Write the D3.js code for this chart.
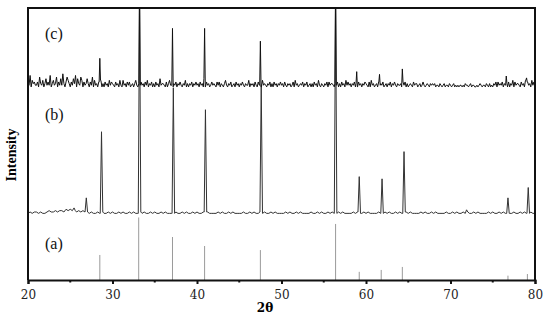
<!DOCTYPE html>
<html lang="en">
<head>
<meta charset="utf-8">
<style>
  body { margin: 0; background: white; }
  svg { display: block; background: white; }
  .tick text { font-family: 'DejaVu Serif'; font-size: 12px; fill: #222; }
  .trace { fill: none; stroke-linejoin: round; }
</style>
</head>
<body>
<svg width="550" height="318"></svg>
<script src="https://d3js.org/d3.v7.min.js"></script>
<script>
// tick labels on the 2-theta axis
const majorTicks = [20, 30, 40, 50, 60, 70, 80];
const minorTicks = [25, 35, 45, 55, 65, 75];

// (a) reference pattern: stick positions and heights
const refPos    = [28.5, 33.1, 37.1, 40.9, 47.5, 56.4, 59.2, 61.8, 64.3, 76.8, 79.1];
const refHeight = [9.2, 23, 15.8, 12.5, 11, 20.6, 3, 3.7, 4.8, 1.6, 2.2];

// (b) pattern: peak positions and heights above its baseline
const bPos    = [25.6, 26.9, 28.7, 33.2, 37.2, 41.0, 47.6, 56.4, 59.2, 61.9, 64.5, 71.9, 76.8, 79.2];
const bHeight = [1.5, 6.2, 30.5, 80, 46.7, 38.6, 47.8, 80, 14, 13.2, 23.2, 1.8, 6.2, 10];

// (c) pattern: peak positions and heights above its baseline
const cPos    = [28.5, 33.2, 37.1, 40.9, 47.5, 56.4, 58.9, 61.6, 64.3, 76.6, 79.0];
const cHeight = [10.5, 40, 21.5, 21.5, 16.8, 40, 5.6, 4.6, 6.6, 4, 3.3];

// baseline noise from 20 to 80, one digit per step (c: 0.125 deg, b: 0.25 deg)
const cNoise = "21704231 13062140 25131702 41260315 18203642 03152705 21640312 52031604 12031402 03120413 21031204 10412031 30120241 02131203 14021302 03120512 21030241 10213021 31021402 02130213 12031205 03120131 21031302 10241021 30120312 02131021 14021203 10312041 21021302 03120213 12031021 20130412 01213021 30120203 12041021 02130312 21021302 03120413 12021302 03120213 21030412 01203121 30120213 02131021 12031302 01210312 20120131 01210212 12011021 01201102 10120101 01101021 10120110 01012101 10210201 02130312 13021203 02140312 21031204 03120413 1";
const bNoise = "1212 2121 1232 2323 3243 4352 3232 2121 1212 1121 2112 1211 2121 1212 1121 2112 1211 1121 1212 1121 2112 1211 1121 2112 1211 1121 1212 1121 2112 1211 1121 2112 1211 1121 1212 1121 2112 1211 1121 2112 1211 1121 1212 1121 2112 1211 1121 2112 1211 1121 1212 1121 2112 1211 1121 2112 1211 1121 1212 1121 1";
const cStep = 0.125, bStep = 0.25;
const cNoiseUnit = 0.6, bNoiseUnit = 0.5;

const bOffset = 24, cOffset = 71;

const svg = d3.select("svg");
const box = { left: 28, right: 535, top: 8, bottom: 280 };

const x = d3.scaleLinear().domain([20, 80]).range([box.left, box.right]);
const y = d3.scaleLinear().domain([0, 100]).range([box.bottom, box.top]);

svg.append("clipPath").attr("id", "plot")
  .append("rect").attr("x", box.left).attr("y", box.top)
  .attr("width", box.right - box.left).attr("height", box.bottom - box.top);

function buildTrace(noiseStr, step, unit, pos, height, offset, hw) {
  const noise = noiseStr.replace(/ /g, "").split("").map(d => +d * unit);
  const grid = noise.map((v, i) => ({ t: 20 + i * step, v: v }));
  const nearest = t => noise[Math.max(0, Math.min(noise.length - 1, Math.round((t - 20) / step)))];
  let pts = grid.filter(g => !pos.some(p => Math.abs(g.t - p) < hw));
  pos.forEach((p, i) => {
    pts.push({ t: p - hw, v: nearest(p - hw) });
    pts.push({ t: p, v: height[i] });
    pts.push({ t: p + hw, v: nearest(p + hw) });
  });
  pts.sort((a, b) => a.t - b.t);
  return pts.map(d => ({ t: d.t, v: d.v + offset }));
}

const line = d3.line().x(d => x(d.t)).y(d => y(d.v));

const plot = svg.append("g").attr("clip-path", "url(#plot)");

// (a) reference sticks
plot.selectAll("line.ref")
  .data(refPos)
  .join("line")
  .attr("class", "ref")
  .attr("x1", d => x(d)).attr("x2", d => x(d))
  .attr("y1", y(0)).attr("y2", (d, i) => y(refHeight[i]))
  .attr("stroke", "#9a9a9a").attr("stroke-width", 1);

// (b) trace
plot.append("path")
  .datum(buildTrace(bNoise, bStep, bNoiseUnit, bPos, bHeight, bOffset, 0.15))
  .attr("class", "trace")
  .attr("stroke", "#333").attr("stroke-width", 1)
  .attr("d", line);

// (c) trace
plot.append("path")
  .datum(buildTrace(cNoise, cStep, cNoiseUnit, cPos, cHeight, cOffset, 0.08))
  .attr("class", "trace")
  .attr("stroke", "#111").attr("stroke-width", 1)
  .attr("d", line);

// frame
svg.append("path")
  .attr("d", `M${box.left},${box.bottom}V${box.top}H${box.right}V${box.bottom}`)
  .attr("fill", "none").attr("stroke", "#111").attr("stroke-width", 2);

// bottom axis
const xAxis = svg.append("g")
  .attr("transform", `translate(0,${box.bottom})`)
  .call(d3.axisBottom(x).tickValues(majorTicks).tickSize(4).tickPadding(6).tickFormat(d3.format("d")));
xAxis.select(".domain").attr("stroke", "#111").attr("stroke-width", 2);
xAxis.selectAll(".tick line").attr("stroke", "#111").attr("stroke-width", 2);

svg.append("g").selectAll("line")
  .data(minorTicks)
  .join("line")
  .attr("x1", d => x(d)).attr("x2", d => x(d))
  .attr("y1", box.bottom).attr("y2", box.bottom + 2.5)
  .attr("stroke", "#111").attr("stroke-width", 2);

// axis titles
svg.append("text")
  .attr("x", 265).attr("y", 312)
  .attr("text-anchor", "middle")
  .attr("font-family", "DejaVu Serif").attr("font-weight", "bold").attr("font-size", 12)
  .text("2θ");

svg.append("text")
  .attr("transform", "translate(16,155) rotate(-90)")
  .attr("text-anchor", "middle")
  .attr("font-family", "Liberation Serif").attr("font-weight", "bold").attr("font-size", 14)
  .text("Intensity");

// panel labels
const panelLabels = ["(a)", "(b)", "(c)"];
const panelLabelY = [249, 120, 39];
svg.selectAll("text.panel")
  .data(panelLabels)
  .join("text")
  .attr("class", "panel")
  .attr("x", 45).attr("y", (d, i) => panelLabelY[i])
  .attr("font-family", "Liberation Serif").attr("font-size", 16)
  .attr("fill", "#111")
  .text(d => d);
</script>
</body>
</html>
